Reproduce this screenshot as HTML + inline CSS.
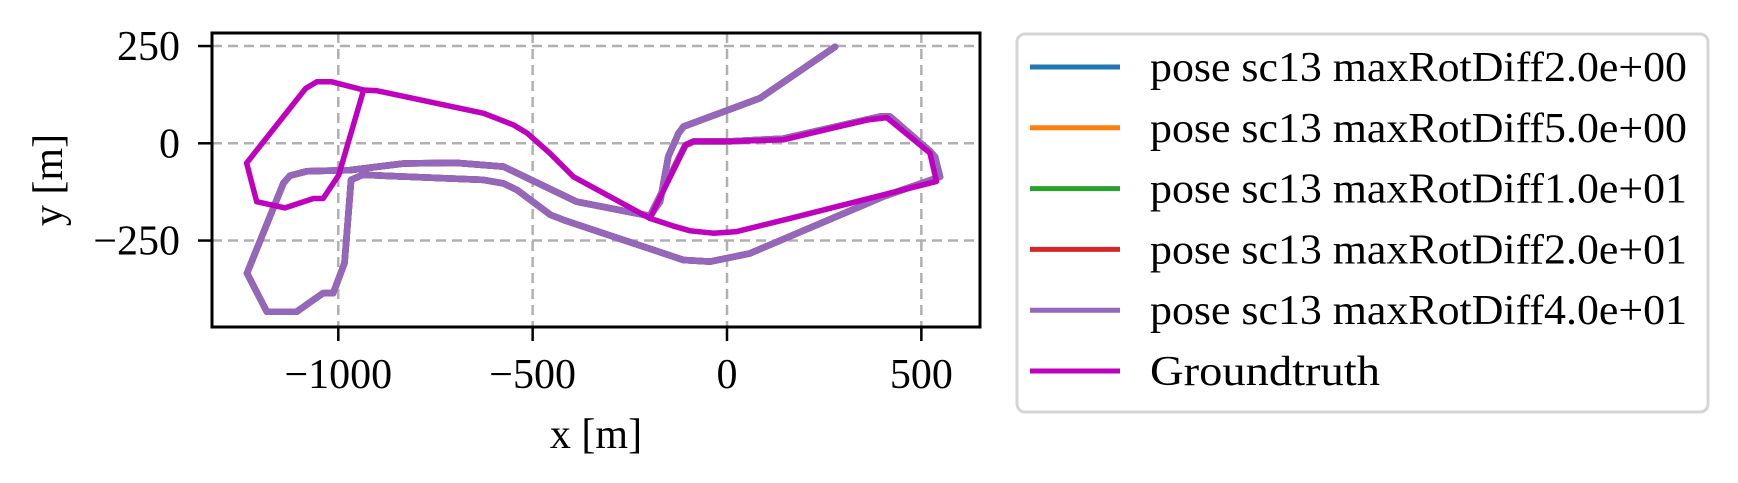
<!DOCTYPE html>
<html><head><meta charset="utf-8"><style>
html,body{margin:0;padding:0;background:#fff;}
svg{display:block;font-family:"Liberation Serif",serif;}
</style></head><body>
<svg id="chart" width="1738" height="483" viewBox="0 0 1738 483">
<defs><clipPath id="plotclip"><rect x="212" y="33" width="768" height="294"/></clipPath></defs>
<g id="grid"></g>
<g id="series" clip-path="url(#plotclip)"></g>
<rect x="212" y="33" width="768" height="294" fill="none" stroke="#000" stroke-width="3"/>
<g id="ticks"></g>
<text x="596" y="448" font-size="42" text-anchor="middle">x [m]</text>
<text x="0" y="0" font-size="42" text-anchor="middle" transform="translate(62,180) rotate(-90)">y [m]</text>
<g id="legend">
<rect x="1017" y="34" width="691" height="378" rx="8" fill="#fff" stroke="#d5d5d5" stroke-width="3"/>
</g>
</svg>
<script>
const xTicks = [-1000, -500, 0, 500];
const xTickLabels = ["\u22121000", "\u2212500", "0", "500"];
const yTicks = [250, 0, -250];
const yTickLabels = ["250", "0", "\u2212250"];
const seriesNames = ["pose sc13 maxRotDiff2.0e+00","pose sc13 maxRotDiff5.0e+00","pose sc13 maxRotDiff1.0e+01","pose sc13 maxRotDiff2.0e+01","pose sc13 maxRotDiff4.0e+01","Groundtruth"];
const seriesColors = ["#1f77b4","#ff7f0e","#2ca02c","#d62728","#9467bd","#bf00bf"];
const poseX = [278,85,-112,-125,-151,-172,-198,-387,-575,-700,-831,-970,-1081,-1124,-1141,-1235,-1184,-1107,-1039,-1013,-984,-967,-937,-626,-575,-540,-454,-421,-112,-43,59,402,548,535,522,419,394,145,8,-86,-107,-198];
const poseY = [248,116,43,25,-34,-150,-187,-150,-60,-50,-52,-69,-72,-83,-102,-334,-433,-433,-385,-385,-308,-94,-81,-94,-103,-120,-184,-197,-300,-304,-283,-137,-86,-35,-20,69,69,12,5,5,-5,-187];
const gtX = [-935,-999,-1039,-1064,-1137,-1210,-1236,-1084,-1055,-1017,-935,-900,-626,-549,-514,-455,-395,-198,-140,-95,-35,25,162,539,522,411,359,145,8,-86,-107,-198];
const gtY = [137,-82,-142,-142,-166,-150,-51,141,158,158,137,135,77,47,26,-26,-86,-193,-212,-225,-231,-227,-193,-98,-25,66,60,9,5,5,-5,-193];

const NS = "http://www.w3.org/2000/svg";
function sx(x){ return 727 + 0.3887 * x; }
function sy(y){ return 143.3 - 0.389 * y; }
function mk(tag, attrs, parent){ const e = document.createElementNS(NS, tag); for (const k in attrs) e.setAttribute(k, attrs[k]); parent.appendChild(e); return e; }

const grid = document.getElementById('grid');
const ticks = document.getElementById('ticks');
xTicks.forEach((v, i) => {
  const g = mk('line', {x1: sx(v), x2: sx(v), y1: 33, y2: 327, stroke: '#b0b0b0', 'stroke-width': 2.5, 'stroke-dasharray': '10,6'}, grid);
  
  
  const t = mk('line', {x1: sx(v), x2: sx(v), y1: 327, y2: 341, stroke: '#000', 'stroke-width': 2.5}, ticks);
  
  
  const l = mk('text', {x: sx(v), y: 388, 'font-size': 42, 'text-anchor': 'middle'}, ticks);
  l.textContent = xTickLabels[i];
  
  
});
yTicks.forEach((v, i) => {
  const g = mk('line', {x1: 212, x2: 980, y1: sy(v), y2: sy(v), stroke: '#b0b0b0', 'stroke-width': 2.5, 'stroke-dasharray': '10,6'}, grid);
  
  
  const t = mk('line', {x1: 198, x2: 212, y1: sy(v), y2: sy(v), stroke: '#000', 'stroke-width': 2.5}, ticks);
  
  
  const l = mk('text', {x: 180, y: sy(v) + 14, 'font-size': 42, 'text-anchor': 'end'}, ticks);
  l.textContent = yTickLabels[i];
  
  
});

const series = document.getElementById('series');
function pathD(xs, ys){ return xs.map((x, i) => (i ? 'L' : 'M') + sx(x).toFixed(1) + ',' + sy(ys[i]).toFixed(1)).join(' '); }
for (let s = 0; s < 5; s++) {
  const p = mk('path', {d: pathD(poseX, poseY), fill: 'none', stroke: seriesColors[s], 'stroke-width': 6.5, 'stroke-linejoin': 'round', 'stroke-linecap': 'round'}, series);
  
  
}
const gt = mk('path', {d: pathD(gtX, gtY), fill: 'none', stroke: seriesColors[5], 'stroke-width': 5.5, 'stroke-linejoin': 'round', 'stroke-linecap': 'round'}, series);



const legend = document.getElementById('legend');
seriesNames.forEach((n, i) => {
  const y = 67 + i * 60.8;
  const h = mk('line', {x1: 1030, x2: 1120, y1: y, y2: y, stroke: seriesColors[i], 'stroke-width': 5}, legend);
  
  
  const attrs = {x: 1150, y: y + 14, 'font-size': 42};
  if (i < 5) { attrs.textLength = 537; attrs.lengthAdjust = 'spacingAndGlyphs'; }
  else { attrs.textLength = 230; attrs.lengthAdjust = 'spacingAndGlyphs'; }
  const t = mk('text', attrs, legend);
  t.textContent = n;
  
  
});
</script>
</body></html>
